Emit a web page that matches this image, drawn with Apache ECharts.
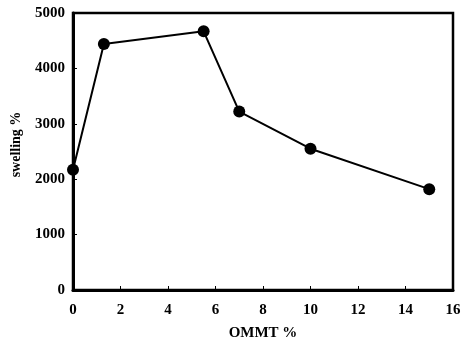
<!DOCTYPE html>
<html><head><meta charset="utf-8">
<script src="https://cdn.jsdelivr.net/npm/echarts@6/dist/echarts.min.js"></script>
<style>html,body{margin:0;padding:0;background:#fff}#c{width:470px;height:355px}</style>
</head><body><div id="c"></div>
<script>
const ommt = [0, 1.3, 5.5, 7, 10, 15];
const swelling = [2170, 4440, 4670, 3220, 2550, 1820];
const xTicks = [0, 2, 4, 6, 8, 10, 12, 14, 16];
const yTicks = [0, 1000, 2000, 3000, 4000, 5000];

const font = '"Liberation Serif", "Times New Roman", serif';
const chart = echarts.init(document.getElementById('c'));
chart.setOption({
  animation: false,
  backgroundColor: '#fff',
  grid: {left: 73, right: 17, top: 13, bottom: 65, show: true, borderColor: '#000', borderWidth: 2.5,
    backgroundColor: 'transparent', containLabel: false, outerBoundsMode: 'none'},
  xAxis: {
    type: 'value', min: xTicks[0], max: xTicks[xTicks.length-1], interval: 2,
    name: 'OMMT %', nameLocation: 'middle', nameGap: 36,
    nameTextStyle: {fontFamily: font, fontWeight: 'bold', fontSize: 15, color: '#000'},
    axisLine: {show: true, lineStyle: {color: '#000', width: 3}},
    axisTick: {show: true, inside: true, length: 4, lineStyle: {color: '#000', width: 1}},
    axisLabel: {fontFamily: font, fontWeight: 'bold', fontSize: 15, color: '#000', margin: 13},
    splitLine: {show: false}
  },
  yAxis: {
    type: 'value', min: yTicks[0], max: yTicks[yTicks.length-1], interval: 1000,
    name: 'swelling %', nameLocation: 'middle', nameGap: 50,
    nameTextStyle: {fontFamily: font, fontWeight: 'bold', fontSize: 14, color: '#000', padding: [0, 0, 0, 14]},
    axisLine: {show: true, lineStyle: {color: '#000', width: 3}},
    axisTick: {show: true, inside: true, length: 4, lineStyle: {color: '#000', width: 1}},
    axisLabel: {fontFamily: font, fontWeight: 'bold', fontSize: 15, color: '#000', margin: 8,
      formatter: v => String(v)},
    splitLine: {show: false}
  },
  series: [{
    type: 'line',
    data: ommt.map((x, i) => [x, swelling[i]]),
    symbol: 'circle', symbolSize: 12,
    itemStyle: {color: '#000'},
    lineStyle: {color: '#000', width: 2},
    clip: false
  }]
});
</script></body></html>
